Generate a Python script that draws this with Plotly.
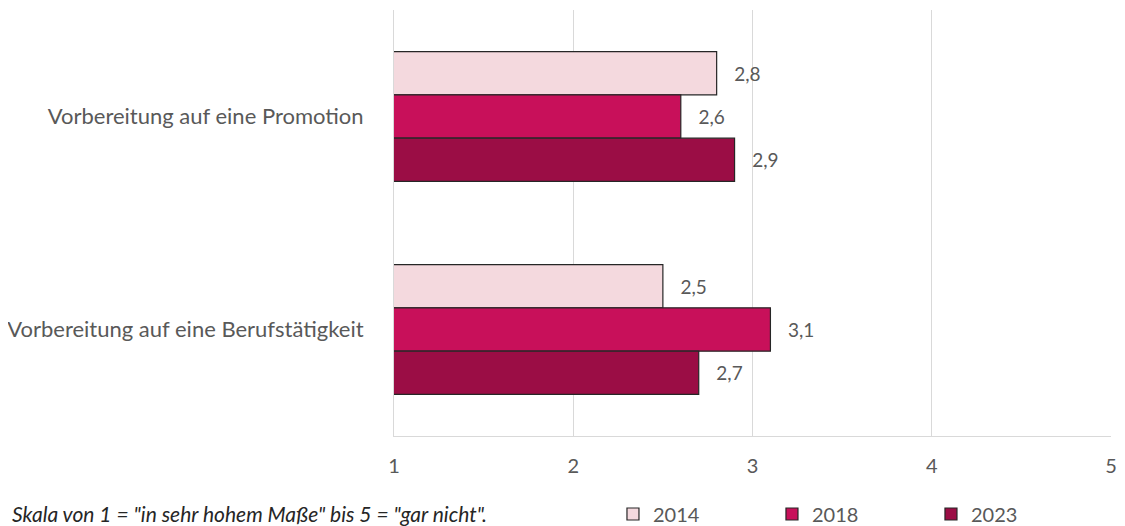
import plotly.graph_objects as go

categories = ["Vorbereitung auf eine Promotion", "Vorbereitung auf eine Berufstätigkeit"]
years = ["2014", "2018", "2023"]
values_2014 = [2.8, 2.5]
values_2018 = [2.6, 3.1]
values_2023 = [2.9, 2.7]
tick_vals = [1, 2, 3, 4, 5]

series = [values_2014, values_2018, values_2023]
colors = ["#F4D9DE", "#C8105A", "#9B0D45"]
font_name = "Lato, Open Sans, sans-serif"
grey = "#595959"

fig = go.Figure()
for year, vals, col in zip(years, series, colors):
    fig.add_trace(go.Bar(
        name=year, y=categories, x=vals, orientation="h",
        marker=dict(color=col, line=dict(color="#262626", width=1.2)),
        texttemplate="   %{x:.1f}", textposition="outside",
        textfont=dict(size=19, color=grey), cliponaxis=False,
    ))

# page body has an 8px margin, so the figure is a bit smaller than the window
fig.update_layout(
    width=1117, height=518,
    margin=dict(l=386, r=14, t=2, b=90),
    paper_bgcolor="white", plot_bgcolor="white",
    barmode="group", bargap=0.39, bargroupgap=0,
    separators=",.",
    font=dict(family=font_name, color=grey),
    showlegend=True,
    legend=dict(orientation="h", xref="container", yref="container",
                x=0.5416, y=0.0232, xanchor="left", yanchor="middle",
                entrywidth=114, entrywidthmode="pixels", itemwidth=30,
                font=dict(size=20, color=grey), traceorder="normal"),
    annotations=[dict(text="<i>Skala von 1 = \"in sehr hohem Maße\" bis 5 = \"gar nicht\".</i>",
                      xref="paper", yref="paper", x=-0.536, y=-0.183,
                      xanchor="left", yanchor="middle", showarrow=False,
                      font=dict(size=21, color="#262626"))],
)
fig.update_xaxes(range=[1, 5], tickvals=tick_vals, showgrid=True, gridcolor="#D9D9D9",
                 showline=True, linecolor="#D9D9D9", zeroline=False, automargin=False,
                 tickfont=dict(size=20, color=grey), ticklabelstandoff=12)
fig.update_yaxes(autorange="reversed", showline=True, linecolor="#D9D9D9", automargin=False,
                 tickfont=dict(size=22, color=grey), ticklabelstandoff=25)

fig.write_html("out.html")
